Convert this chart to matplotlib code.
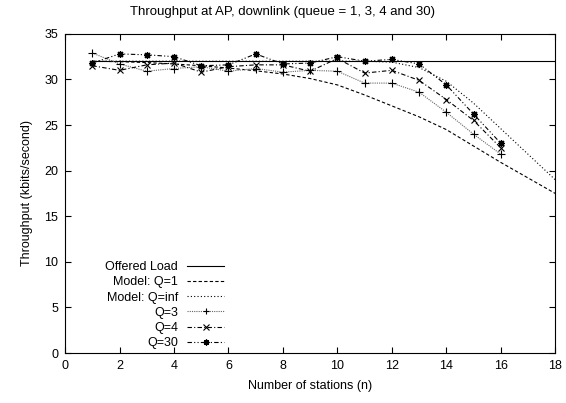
import matplotlib
matplotlib.use("Agg")
import matplotlib.pyplot as plt

plt.rcParams['font.family'] = ['Liberation Sans', 'DejaVu Sans']
plt.rcParams['font.size'] = 9

# data
stations = list(range(1, 17))
q3 = [32.9, 31.7, 30.9, 31.2, 31.4, 30.9, 31.2, 30.8, 31.0, 30.9,
      29.6, 29.6, 28.6, 26.4, 24.0, 21.8]
q4 = [31.5, 31.0, 31.6, 31.8, 30.8, 31.4, 31.6, 31.6, 30.9, 32.3,
      30.7, 31.0, 29.9, 27.8, 25.5, 22.5]
q30 = [31.8, 32.8, 32.7, 32.5, 31.5, 31.6, 32.8, 31.7, 31.8, 32.5,
       32.0, 32.2, 31.7, 29.4, 26.2, 23.0]

model_n = list(range(1, 19))
model_q1 = [32.0, 31.95, 31.85, 31.7, 31.5, 31.25, 30.95, 30.6, 30.1, 29.4,
            28.3, 27.1, 25.9, 24.5, 22.7, 20.9, 19.2, 17.5]
model_qinf = [32.0, 32.0, 32.0, 32.0, 32.0, 32.0, 32.0, 32.0, 32.0, 32.0,
              32.0, 31.9, 31.3, 29.8, 27.4, 24.6, 21.8, 19.0]
offered_n = [1, 18]
offered = [32.0, 32.0]

fig = plt.figure(figsize=(5.66, 4.03), dpi=100)
ax = fig.add_axes([0.115, 0.124, 0.866, 0.792])

lw = 0.8
ax.plot(offered_n, offered, color='black', lw=lw, label='Offered Load')
ax.plot(model_n, model_q1, color='black', lw=lw, linestyle=(0, (3, 2)),
        label='Model: Q=1')
ax.plot(model_n, model_qinf, color='black', lw=lw, linestyle=(0, (1, 2)),
        label='Model: Q=inf')
ax.plot(stations, q3, color='#666666', lw=lw, linestyle=(0, (1, 1)),
        marker='+', ms=5.5, mec='black', mew=0.8, label='Q=3')
ax.plot(stations, q4, color='black', lw=lw, linestyle=(0, (4, 2, 1, 2)),
        marker='x', ms=4.5, mew=0.8, label='Q=4')
ax.plot(stations, q30, color='black', lw=lw, linestyle=(0, (4, 2, 1, 2, 1, 2)),
        marker=(8, 2, 0), ms=5, mew=0.9, label='Q=30')

ax.set_xlim(0, 18)
ax.set_ylim(0, 35)
ax.set_xticks(range(0, 19, 2))
ax.set_yticks(range(0, 36, 5))
ax.tick_params(direction='in', top=True, right=True, length=4, width=0.8,
               pad=5)
for s in ax.spines.values():
    s.set_linewidth(0.8)

# gnuplot centres the title on the whole canvas
fig.text(0.5, 0.97, 'Throughput at AP, downlink (queue = 1, 3, 4 and 30)',
         ha='center', va='center', fontsize=9.5)
ax.set_xlabel('Number of stations (n)', labelpad=6)
ax.set_ylabel('Throughput (kbits/second)', labelpad=8)

leg = ax.legend(loc='lower left', bbox_to_anchor=(0.067, -0.012), frameon=False,
                markerfirst=False, handlelength=3.0, handletextpad=0.7,
                labelspacing=0.26, borderpad=0.1, fontsize=9, markerscale=0.85)
# right-align the labels like gnuplot does
for col in leg._legend_handle_box.get_children():
    col.align = 'right'

fig.savefig('out.png', dpi=100)
